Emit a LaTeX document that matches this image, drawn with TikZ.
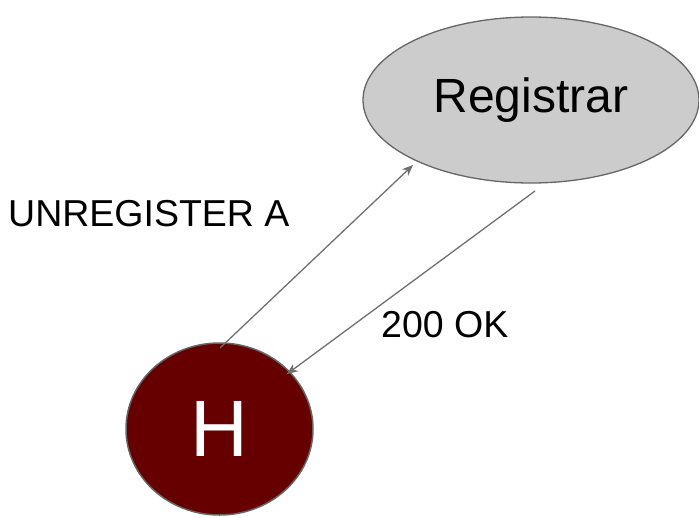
\documentclass[tikz,border=0pt]{standalone}
\usepackage{fontspec}
\setmainfont{Liberation Sans}
\usetikzlibrary{shapes.geometric,arrows.meta}
\definecolor{regfill}{HTML}{CCCCCC}
\definecolor{hfill}{HTML}{660000}
\definecolor{edgegray}{HTML}{666666}
\definecolor{arrgray}{HTML}{707070}
\tikzset{
  regbox/.style={ellipse, draw=edgegray, fill=regfill, line width=1.3pt, inner sep=0pt,
     minimum width=336pt, minimum height=166pt, font=\fontsize{48}{52}\selectfont},
  hbox/.style={ellipse, draw=edgegray, fill=hfill, line width=1.5pt, inner sep=0pt,
     minimum width=187pt, minimum height=172pt, text=white, font=\fontsize{80}{84}\selectfont},
  msg/.style={arrgray, line width=1.3pt, -{Stealth[length=11pt,width=9pt]}},
  lbl/.style={anchor=base west, inner sep=0pt, font=\fontsize{37.5}{40}\selectfont}
}
\begin{document}
\begin{tikzpicture}[x=1pt,y=-1pt]
\useasboundingbox (0,0) rectangle (699,517);
\node[regbox] (R) at (531,100) {Registrar};
\node[hbox] (H) at (219.5,429) {H};
\coordinate (a1s) at (220,348);
\coordinate (a1e) at (413,165);
\coordinate (a2s) at (535,191);
\coordinate (a2e) at (287,374);
\draw[msg] (a1s) -- (a1e);
\draw[msg] (a2s) -- (a2e);
\node[lbl] (L1) at (8,226) {UNREGISTER A};
\node[lbl] (L2) at (381,337) {200 OK};
\end{tikzpicture}
\end{document}
